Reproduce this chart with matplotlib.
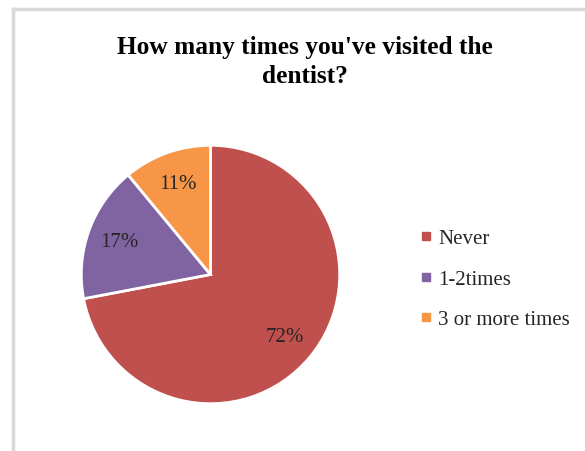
import matplotlib.pyplot as plt
from matplotlib.lines import Line2D

plt.rcParams['font.family'] = ['Liberation Serif', 'DejaVu Serif']

categories = ['Never', '1-2times', '3 or more times']
shares = [72, 17, 11]
colours = ['#C0504D', '#8064A2', '#F79646']
title = "How many times you've visited the\ndentist?"

fig = plt.figure(figsize=(5.85, 4.52), dpi=100)

# light grey frame of the chart area (left and top edges visible)
fig.add_artist(Line2D([13/585, 13/585], [0, 1 - 10/452], color='#D9D9D9', lw=2.5))
fig.add_artist(Line2D([13/585, 1], [1 - 10/452, 1 - 10/452], color='#D9D9D9', lw=2.5))

fig.text(305/585, 1 - 62/452, title, ha='center', va='center',
         fontsize=18.3, fontweight='bold', linespacing=1.28)

ax = fig.add_axes([80/585, 46/452, 261/585, 261/452])
wedges, texts, autotexts = ax.pie(
    shares, colors=colours, startangle=90, counterclock=False,
    autopct='%d%%', pctdistance=0.75, radius=1,
    wedgeprops=dict(edgecolor='white', linewidth=2),
    textprops=dict(fontsize=15, color='#262626'))
ax.set_xlim(-1.01, 1.01)
ax.set_ylim(-1.01, 1.01)
ax.set_aspect('equal')

handles = [Line2D([], [], marker='s', linestyle='none', markersize=5.5,
                  markerfacecolor=c, markeredgecolor=c) for c in colours]
fig.legend(handles, categories, loc='center left',
           bbox_to_anchor=(402/585, 1 - 280/452), frameon=False,
           fontsize=15, handlelength=0.5, handletextpad=0.35,
           labelspacing=1.0, labelcolor='#262626')

fig.savefig('out.png', dpi=100)
